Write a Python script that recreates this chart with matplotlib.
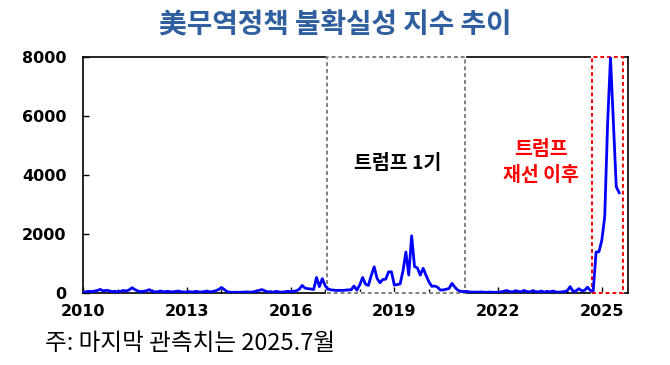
import numpy as np
import matplotlib
matplotlib.use("Agg")
import matplotlib.pyplot as plt
from matplotlib.patches import Rectangle

plt.rcParams['font.family'] = ['Noto Sans CJK KR', 'DejaVu Sans']

# monthly index, Jan 2010 - Jul 2025
tpu_2010 = [30, 45, 60, 50, 70, 90, 125, 70, 95, 80, 50, 60]
tpu_2011 = [45, 60, 90, 70, 110, 180, 120, 70, 50, 60, 80, 115]
tpu_2012 = [60, 40, 50, 70, 40, 60, 50, 40, 55, 70, 45, 35]
tpu_2013 = [40, 50, 30, 60, 45, 35, 50, 70, 40, 55, 80, 120]
tpu_2014 = [190, 120, 50, 30, 25, 30, 25, 30, 35, 40, 30, 40]
tpu_2015 = [60, 90, 120, 80, 40, 50, 30, 60, 40, 30, 45, 60]
tpu_2016 = [50, 60, 80, 130, 260, 170, 150, 140, 120, 530, 220, 490]
tpu_2017 = [250, 140, 110, 100, 90, 95, 90, 100, 110, 110, 240, 100]
tpu_2018 = [280, 530, 300, 260, 600, 890, 500, 350, 460, 470, 720, 720]
tpu_2019 = [270, 290, 310, 750, 1390, 610, 1940, 900, 850, 610, 840, 600]
tpu_2020 = [380, 230, 240, 200, 100, 110, 130, 160, 330, 200, 100, 60]
tpu_2021 = [50, 60, 40, 30, 35, 30, 40, 30, 25, 35, 30, 25]
tpu_2022 = [30, 40, 60, 90, 50, 40, 80, 60, 40, 90, 50, 40]
tpu_2023 = [80, 50, 40, 70, 30, 60, 40, 70, 40, 30, 40, 50]
tpu_2024 = [80, 220, 60, 70, 150, 80, 90, 200, 90, 70, 1390, 1400]
tpu_2025 = [1800, 2600, 5760, 7980, 5760, 3600, 3400]

tpu = (tpu_2010 + tpu_2011 + tpu_2012 + tpu_2013 + tpu_2014 + tpu_2015 +
       tpu_2016 + tpu_2017 + tpu_2018 + tpu_2019 + tpu_2020 + tpu_2021 +
       tpu_2022 + tpu_2023 + tpu_2024 + tpu_2025)
months = 2010 + np.arange(len(tpu)) / 12.0

trump1 = (2017.05, 2021.05)
trump2 = (2024.72, 2025.6)
year_ticks = [2010, 2013, 2016, 2019, 2022, 2025]

fig = plt.figure(figsize=(6.7, 3.65), dpi=100)
ax = fig.add_axes([0.124, 0.197, 0.813, 0.647])

ax.plot(months, tpu, color='#0000FF', lw=2.0, zorder=6)

ax.set_xlim(2010, 2025.75)
ax.set_ylim(0, 8000)
ax.set_xticks(year_ticks)
ax.set_xticks(range(2010, 2026), minor=True)
ax.set_yticks([0, 2000, 4000, 6000, 8000])
ax.tick_params(direction='in', length=4, width=1, labelsize=11.5)
ax.tick_params(axis='x', pad=8)
ax.tick_params(axis='y', pad=12)
ax.tick_params(which='minor', direction='in', length=3, width=1)
for lab in ax.get_xticklabels() + ax.get_yticklabels():
    lab.set_fontweight('bold')
    lab.set_family('DejaVu Sans')
for s in ax.spines.values():
    s.set_linewidth(1.2)

# period boxes: white underlay hides the black frame, dashed outline on top
for (x0, x1), col in [(trump1, '#808080'), (trump2, '#FF0000')]:
    ax.add_patch(Rectangle((x0, 0), x1 - x0, 8000, fill=False, ec='white',
                           lw=1.6, zorder=4, clip_on=False))
    ax.add_patch(Rectangle((x0, 0), x1 - x0, 8000, fill=False, ec=col,
                           ls=(0, (2, 1.5)), lw=1.4, zorder=5, clip_on=False))

ax.text(2019.1, 4400, '트럼프 1기', ha='center', va='center', fontsize=14,
        fontweight='bold', color='black')
ax.text(2023.24, 4850, '트럼프', ha='center', va='center', fontsize=14,
        fontweight='bold', color='#FF0000')
ax.text(2023.24, 3980, '재선 이후', ha='center', va='center', fontsize=14,
        fontweight='bold', color='#FF0000')

fig.text(0.5, 0.93, '美무역정책 불확실성 지수 추이', ha='center', va='center',
         fontsize=20, fontweight='bold', color='#2F5F9E')
fig.text(0.067, 0.06, '주: 마지막 관측치는 2025.7월', ha='left', va='center',
         fontsize=17, color='black')

fig.savefig('out.png', dpi=100)
